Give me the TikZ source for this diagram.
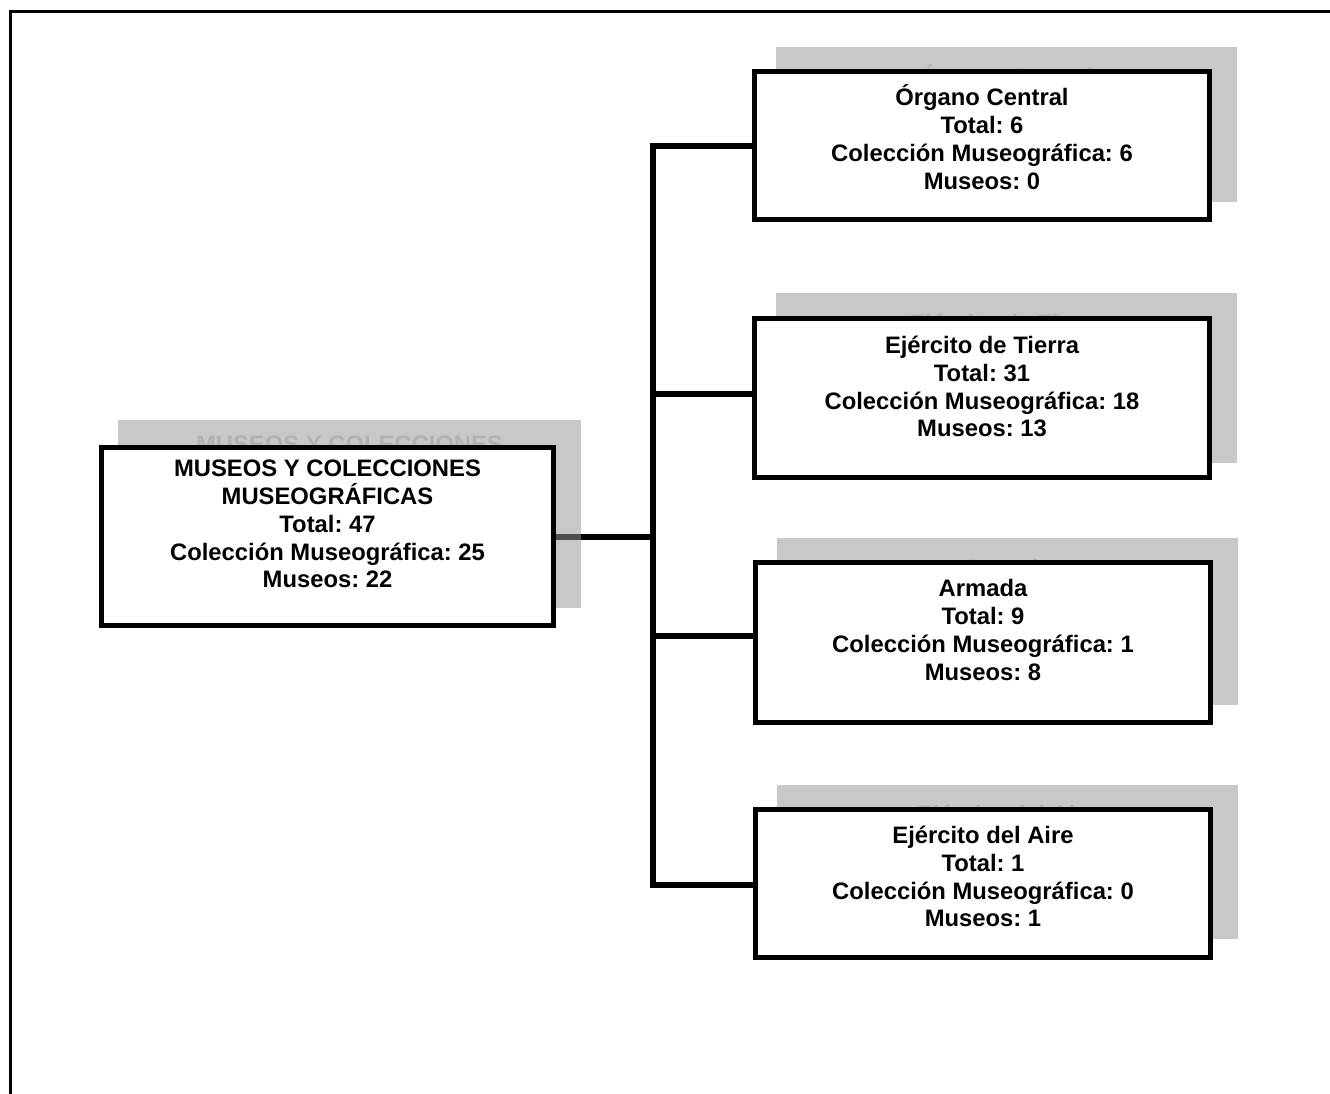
\documentclass[tikz,border=0pt]{standalone}
\usepackage{fontspec}
\setmainfont{Liberation Sans}
\usetikzlibrary{positioning}
\pgfdeclarelayer{background}
\pgfsetlayers{background,main}
\definecolor{shadowgray}{RGB}{151,151,151}
\definecolor{shadowtext}{RGB}{178,178,178}
\tikzset{orgbox/.style={rectangle, draw=black, fill=white, line width=5pt, inner sep=0pt},
orgshadow/.style={rectangle, fill=shadowgray, fill opacity=0.53, inner sep=0pt},
orgtext/.style={align=center, inner sep=0pt, font=\bfseries\frenchspacing\fontsize{23.8}{27.75}\selectfont},
orgshadowtext/.style={orgtext, text=shadowtext},
orglink/.style={line width=6pt}}

\begin{document}
\begin{tikzpicture}[x=1pt, y=-1pt]
    \useasboundingbox (0,0) rectangle (1330,1094);

    % Page frame
    \draw[line width=3pt] (10.5,1094) -- (10.5,12) -- (1330,12);

    % Shadows
    \node[orgshadow, minimum width=463pt, minimum height=188pt] (root-s) at (349.5,514) {};
    \node[orgshadowtext, below=16pt of root-s.north] (root-st) {MUSEOS Y COLECCIONES\\MUSEOGRÁFICAS\\Total: 47\\Colección Museográfica: 25\\Museos: 22};
    \node[orgshadow, minimum width=461pt, minimum height=155pt] (central-s) at (1006.5,124.5) {};
    \node[orgshadowtext, below=17pt of central-s.north] (central-st) {Órgano Central\\Total: 6\\Colección Museográfica: 6\\Museos: 0};
    \node[orgshadow, minimum width=461pt, minimum height=170pt] (tierra-s) at (1006.5,378) {};
    \node[orgshadowtext, below=21.5pt of tierra-s.north] (tierra-st) {Ejército de Tierra\\Total: 31\\Colección Museográfica: 18\\Museos: 13};
    \node[orgshadow, minimum width=461pt, minimum height=167pt] (armada-s) at (1007.5,621.5) {};
    \node[orgshadowtext, below=21pt of armada-s.north] (armada-st) {Armada\\Total: 9\\Colección Museográfica: 1\\Museos: 8};
    \node[orgshadow, minimum width=461pt, minimum height=154pt] (aire-s) at (1007.5,862) {};
    \node[orgshadowtext, below=20.5pt of aire-s.north] (aire-st) {Ejército del Aire\\Total: 1\\Colección Museográfica: 0\\Museos: 1};

    % Boxes
    \node[orgbox, minimum width=452pt, minimum height=178pt] (root) at (327.5,536.5) {};
    \node[orgtext, below=15pt of root.north] (root-t) {MUSEOS Y COLECCIONES\\MUSEOGRÁFICAS\\Total: 47\\Colección Museográfica: 25\\Museos: 22};
    \node[orgbox, minimum width=455pt, minimum height=148pt] (central) at (982,145.5) {};
    \node[orgtext, below=15.5pt of central.north] (central-t) {Órgano Central\\Total: 6\\Colección Museográfica: 6\\Museos: 0};
    \node[orgbox, minimum width=455pt, minimum height=159pt] (tierra) at (982,398) {};
    \node[orgtext, below=20pt of tierra.north] (tierra-t) {Ejército de Tierra\\Total: 31\\Colección Museográfica: 18\\Museos: 13};
    \node[orgbox, minimum width=455pt, minimum height=160pt] (armada) at (983,642.5) {};
    \node[orgtext, below=19.5pt of armada.north] (armada-t) {Armada\\Total: 9\\Colección Museográfica: 1\\Museos: 8};
    \node[orgbox, minimum width=455pt, minimum height=148pt] (aire) at (983,883.5) {};
    \node[orgtext, below=19pt of aire.north] (aire-t) {Ejército del Aire\\Total: 1\\Colección Museográfica: 0\\Museos: 1};

    % Connectors
    \coordinate (j1) at (653,146);
    \coordinate (j2) at (653,393.5);
    \coordinate (j3) at (653,635.5);
    \coordinate (j4) at (653,885);
    \begin{pgfonlayer}{background}
        \draw[orglink] (root.east) -- (root.east -| j1);
        \draw[orglink] (j1 -| central.west) -- (j1) -- (j4) -- (j4 -| aire.west);
        \draw[orglink] (j2) -- (j2 -| tierra.west);
        \draw[orglink] (j3) -- (j3 -| armada.west);
    \end{pgfonlayer}
\end{tikzpicture}
\end{document}
